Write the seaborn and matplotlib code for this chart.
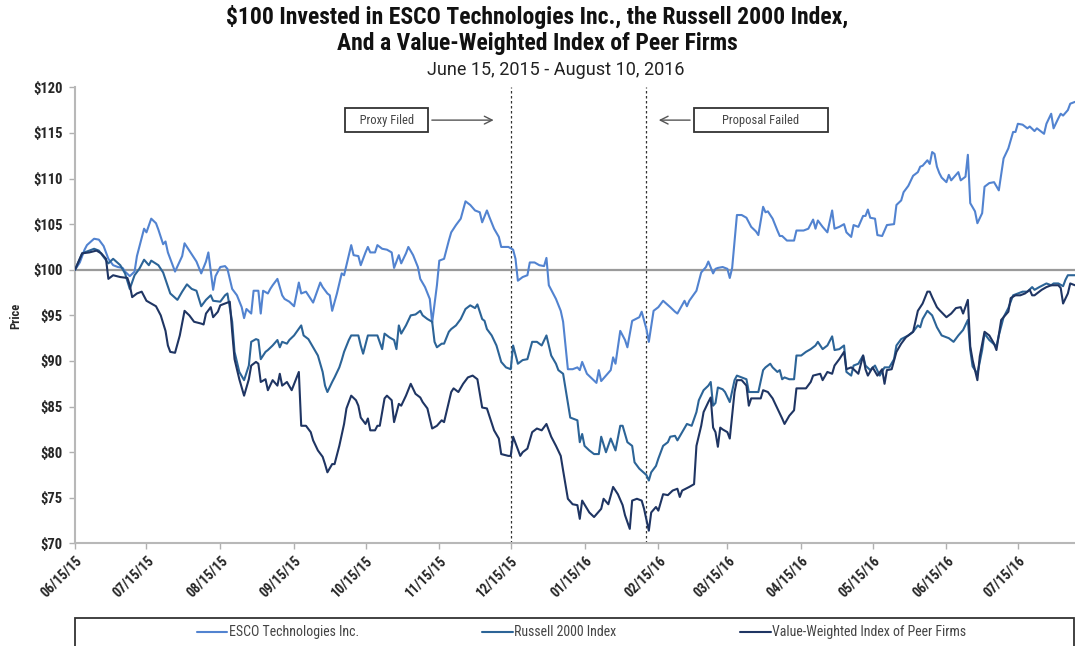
import pandas as pd
import matplotlib
matplotlib.use('Agg')
import matplotlib.pyplot as plt
import matplotlib.dates as mdates
from matplotlib import font_manager
from matplotlib.ticker import FuncFormatter
from matplotlib.patches import Rectangle
import seaborn as sns

# data: days after 06/15/15 and the value of $100 invested
start = pd.Timestamp('2015-06-15')

esco_days = [0, 2, 4, 5, 8, 10, 12, 14, 16, 18, 20, 21, 23, 25, 26, 28, 29, 30, 32, 34, 35, 37, 38, 39, 41, 42,
             45, 46, 48, 51, 53, 55, 56, 58, 59, 61, 63, 64, 66, 68, 70, 71, 72, 74, 75, 77, 78, 79, 81, 82, 83,
             85, 87, 88, 90, 92, 94, 95, 97, 100, 103, 104, 106, 107, 108, 110, 112, 113, 116, 117, 119, 120,
             122, 123, 124, 126, 127, 129, 131, 133, 134, 136, 137, 139, 140, 142, 144, 145, 147, 149, 150, 152,
             153, 155, 157, 158, 160, 162, 164, 166, 168, 170, 171, 173, 174, 176, 178, 179, 182, 184, 185, 186,
             188, 190, 191, 193, 195, 197, 198, 199, 202, 204, 205, 207, 209, 211, 212, 213, 215, 217, 219, 220,
             221, 223, 225, 226, 227, 229, 231, 232, 234, 237, 238, 240, 241, 243, 245, 247, 250, 252, 253, 256,
             257, 258, 261, 263, 265, 266, 268, 269, 270, 272, 274, 275, 276, 278, 280, 282, 284, 286, 287, 289,
             290, 291, 293, 295, 296, 297, 299, 302, 303, 305, 306, 308, 310, 311, 312, 314, 316, 318, 319, 321,
             323, 324, 326, 327, 329, 331, 332, 333, 334, 336, 337, 339, 341, 344, 345, 347, 348, 350, 352, 354,
             355, 356, 358, 359, 360, 361, 362, 363, 364, 366, 367, 368, 371, 372, 374, 375, 376, 378, 379, 381,
             382, 384, 386, 388, 390, 392, 394, 395, 396, 398, 400, 401, 403, 404, 407, 408, 410, 411, 413, 414,
             415, 417, 418, 420]
esco_vals = [100, 100.8, 102.2, 102.7, 103.4, 103.3, 102.6, 101.2, 100.5, 100.3, 100.2, 99.8, 99.3, 99.8, 101.5,
             103.5, 104.5, 104.1, 105.6, 105.1, 104.4, 102.8, 103.1, 101.9, 100.5, 99.8,
             101.5, 102.9, 102.1, 100.9, 99.6, 100.9, 101.9, 97.8, 99.3, 100.3, 100.4, 100.1, 97.9, 97.2, 95.9,
             94.7, 95.7, 95.2, 97.7, 97.7, 95.2, 97.7, 97.4, 97.9, 98.3,
             99.0, 97.2, 96.8, 96.5, 96.0, 98.6, 97.4, 97.6, 96.4, 98.6, 98.1, 97.4, 97.2, 95.5, 97.4, 99.6, 99.4,
             102.7, 101.6, 101.5, 100.5,
             101.9, 102.5, 101.9, 101.9, 102.7, 102.3, 102.2, 101.9, 100.2, 101.6, 100.7, 101.8, 102.5, 101.6,
             100.3, 99.0, 98.1, 96.8, 94.2, 98.3,
             101.0, 101.2, 103.2, 104.1, 104.9, 105.6, 107.5, 107.1, 106.5, 106.3, 105.2, 106.5, 105.8, 104.5,
             103.6, 102.5, 102.5, 102.2, 101.2, 98.8,
             99.2, 99.4, 100.8, 100.8, 100.5, 100.4, 101.3, 98.3, 96.8, 95.5, 94.3, 89.1, 89.1, 89.3, 89.0, 89.9,
             88.6, 88.1, 87.6, 89.0,
             87.8, 88.4, 89.0, 90.4, 89.7, 93.3, 92.3, 91.5, 94.4, 94.8, 95.4, 93.5, 92.1, 95.5, 95.9, 96.6, 95.9,
             95.4, 95.2, 96.6,
             96.0, 96.6, 97.7, 99.7, 100.3, 100.9, 99.6, 100.1, 100.2, 100.3, 100.1, 99.1, 100.2, 106.0, 106.0,
             105.7, 104.7, 104.2, 103.8, 106.9,
             106.3, 106.4, 105.6, 104.3, 103.7, 103.7, 103.2, 103.2, 104.3, 104.3, 104.3, 104.5, 105.5, 104.5,
             105.4, 104.7, 104.1, 106.5, 104.5, 104.7,
             105.0, 104.1, 103.6, 104.9, 104.7, 105.9, 105.9, 106.6, 105.7, 105.6, 103.8, 103.7, 104.9, 105.0,
             107.1, 107.6, 108.5, 109.2, 110.3, 110.7,
             111.3, 111.4, 112.0, 111.6, 112.9, 112.7, 111.3, 110.6, 110.1, 109.6, 110.4, 109.8, 110.7, 109.8,
             110.2, 112.6, 107.3, 106.4, 105.1, 106.2,
             109.1, 109.5, 109.6, 108.7, 112.2, 113.3, 115.1, 115.1, 116.0, 115.9, 115.5, 115.7, 115.2, 115.5,
             114.9, 116.0, 117.1, 115.5, 116.6, 117.1,
             116.9, 117.5, 118.2, 118.4]

russell_days = [0, 3, 8, 10, 12, 14, 16, 19, 21, 23, 25, 27, 29, 31, 32, 35, 37, 40, 43, 45, 47, 49, 51, 53, 55,
                57, 58, 61, 63, 64, 66, 67, 69, 71, 73, 74, 76, 77, 78, 80, 81, 83, 85, 86, 87, 89, 90, 92, 95,
                96, 98, 100, 102, 104, 105, 106, 108, 109, 111, 112, 113, 115, 116, 119, 120, 121, 123, 125, 127,
                129, 130, 132, 134, 135, 136, 137, 139, 141, 143, 145, 146, 148, 150, 151, 152, 154, 155, 157,
                158, 160, 162, 164, 166, 168, 169, 171, 172, 173, 175, 177, 179, 181, 183, 184, 186, 188, 190,
                192, 194, 196, 198, 200, 202, 203, 205, 206, 208, 209, 211, 212, 213, 214, 216, 218, 220, 221,
                223, 225, 227, 229, 230, 232, 234, 235, 237, 240, 241, 242, 244, 245, 247, 249, 250, 252, 253,
                255, 257, 259, 261, 262, 264, 266, 267, 268, 269, 270, 272, 273, 275, 277, 278, 280, 282, 283,
                285, 287, 289, 290, 292, 293, 295, 296, 297, 298, 300, 302, 303, 305, 307, 309, 311, 312, 314,
                316, 318, 319, 321, 323, 324, 326, 327, 329, 331, 332, 334, 336, 338, 340, 342, 344, 345, 347,
                350, 352, 354, 355, 356, 358, 360, 362, 364, 366, 367, 369, 371, 373, 375, 376, 377, 379, 381,
                382, 384, 387, 388, 390, 392, 394, 396, 398, 400, 402, 403, 405, 408, 410, 411, 413, 415, 416,
                417, 420]
russell_vals = [100, 101.8, 102.3, 102.1, 101.4, 100.7, 101.2, 100.5, 99.6, 97.9, 99.4, 100.1, 101.1, 100.5,
                101.0, 100.5, 99.7, 97.4, 96.7, 97.6, 98.4, 97.9, 97.7, 96.0, 96.7,
                97.2, 96.6, 96.5, 97.2, 97.4, 94.3, 91.0, 88.8, 87.9, 89.5, 92.1, 92.4, 92.3, 90.2, 91.0, 91.2,
                91.7, 92.3, 91.5, 92.1, 91.9, 92.3, 92.8, 93.9,
                92.8, 92.4, 91.5, 90.6, 88.8, 87.3, 86.6, 87.7, 88.2, 89.3, 90.1, 91.0, 92.3, 92.8, 92.8, 91.7,
                90.8, 92.8, 92.8, 92.8,
                91.3, 93.0, 92.6, 92.3, 91.3, 93.9, 93.0, 93.9, 95.0, 95.1, 95.5, 95.0, 94.6, 94.3, 92.1, 91.5,
                91.9, 91.9, 93.2,
                93.5, 93.9, 94.6, 95.7, 96.1, 95.8, 96.2, 94.6, 94.4, 93.5, 92.8, 91.7, 89.9, 89.3, 89.1, 91.7,
                89.7, 90.1, 90.2,
                92.1, 92.1, 91.7, 92.8, 90.6, 89.7, 89.0, 88.6, 87.0, 83.8, 83.7, 83.5, 81.1, 82.0, 80.7, 80.2,
                79.8, 79.8, 81.7,
                80.0, 81.5, 80.2, 82.9, 82.9, 81.1, 80.7, 78.9, 78.2, 77.5, 76.9, 77.8, 78.5, 79.3, 80.7, 81.1,
                81.7, 81.8, 81.3,
                82.2, 83.1, 82.9, 84.4, 85.7, 86.8, 87.3, 87.7, 85.1, 85.4, 87.1, 86.9, 86.6, 85.5, 87.9, 88.4,
                88.2, 88.0, 86.6,
                86.6, 86.6, 89.0, 89.3, 89.7, 89.3, 88.8, 89.0, 88.0, 88.2, 88.0, 88.0, 90.6, 90.6, 91.0, 91.3,
                91.7, 92.1, 91.3,
                91.7, 92.7, 91.2, 91.3, 91.7, 88.8, 88.4, 89.5, 89.7, 90.6, 89.5, 89.0, 89.5, 88.4, 89.3, 89.3,
                90.2, 91.7, 92.4,
                92.8, 93.2, 93.9, 93.7, 94.6, 95.5, 95.0, 93.7, 92.8, 92.6, 92.5, 92.1, 92.8, 93.4, 94.5, 91.2,
                89.4, 88.6, 91.2,
                93.0, 92.3, 91.6, 92.8, 94.8, 95.8, 97.2, 97.4, 97.6, 97.6, 98.1, 97.8, 98.1, 98.5, 98.3, 98.5,
                98.5, 98.2, 98.9,
                99.4, 99.4]

peer_days = [0, 3, 6, 9, 11, 13, 14, 16, 19, 22, 23, 24, 26, 28, 30, 32, 34, 36, 38, 39, 40, 42, 44, 46, 48,
             50, 53, 54, 55, 57, 58, 60, 61, 63, 65, 66, 67, 69, 71, 73, 74, 76, 77, 78, 80, 81, 83, 85, 86, 87,
             89, 91, 94, 95, 97, 99, 100, 102, 104, 105, 106, 108, 109, 111, 113, 114, 116, 118, 119, 120, 122,
             123, 124, 126, 127, 128, 130, 131, 133, 134, 136, 137, 139, 141, 143, 145, 146, 148, 150, 152, 154,
             155, 158, 159, 161, 163, 165, 167, 169, 171, 173, 174, 176, 178, 179, 182, 183, 184, 187, 188, 190,
             192, 194, 196, 198, 200, 202, 204, 205, 207, 209, 211, 212, 213, 216, 218, 221, 222, 224, 226, 228,
             230, 231, 233, 234, 236, 238, 239, 241, 242, 244, 245, 247, 249, 251, 253, 254, 255, 258, 260, 261,
             263, 264, 266, 267, 268, 269, 270, 271, 272, 274, 275, 277, 278, 280, 282, 283, 284, 288, 289, 291,
             293, 295, 297, 298, 300, 302, 303, 305, 307, 309, 310, 313, 314, 316, 318, 319, 321, 323, 324, 326,
             327, 329, 331, 332, 333, 335, 337, 339, 340, 341, 343, 345, 347, 349, 352, 354, 356, 358, 359, 360,
             362, 363, 366, 368, 370, 372, 373, 375, 376, 377, 379, 380, 382, 384, 386, 387, 389, 392, 393, 395,
             397, 399, 401, 402, 403, 406, 408, 410, 413, 414, 415, 417, 418, 420]
peer_vals = [100, 101.8, 101.9, 102.1, 101.8, 101.2, 99.0, 99.4, 99.2, 99.1, 98.3, 97.0, 97.4, 97.6, 96.6, 96.3,
             96.0, 95.0, 93.3, 91.7, 91.0, 90.9, 92.8, 95.5, 95.0,
             94.3, 94.1, 94.0, 95.2, 95.9, 94.8, 95.4, 96.1, 96.3, 96.5, 93.2, 90.2, 88.0, 86.2, 88.0, 89.5,
             89.9, 89.7, 87.7, 88.0, 86.8, 87.9, 87.3, 88.6, 87.3,
             87.7, 86.8, 88.8, 82.9, 82.9, 82.2, 81.3, 80.2, 79.5, 78.7, 77.8, 78.7, 78.7, 80.7, 83.1, 84.8,
             86.2, 85.7, 85.1, 83.8, 83.1,
             83.7, 82.4, 82.4, 82.9, 82.9, 85.9, 86.2, 85.7, 83.3, 85.3, 85.1, 86.2, 87.5, 86.4, 86.0, 85.5,
             84.8, 82.6, 82.9, 83.5,
             83.3, 86.6, 87.0, 86.6, 87.5, 88.2, 88.4, 88.0, 84.9, 84.8, 84.0, 82.4, 81.5, 79.8, 79.6, 79.6,
             81.7, 79.6, 80.0, 80.4,
             82.2, 82.6, 82.4, 83.1, 81.7, 80.7, 79.6, 78.0, 74.9, 74.3, 74.2, 72.7, 74.7, 73.4, 72.9, 73.8,
             74.9, 74.3, 76.2, 75.4,
             74.2, 73.1, 71.6, 74.7, 74.9, 74.7, 73.8, 71.4, 73.4, 74.0, 73.6, 75.4, 75.3, 75.8, 76.0, 75.1,
             75.8, 76.2, 76.5, 80.7,
             82.9, 84.4, 85.5, 86.0, 82.7, 82.2, 80.6, 82.7, 82.5, 82.2, 81.5, 86.6, 87.9, 87.9, 87.3, 85.1,
             85.9, 85.9, 86.8, 86.6,
             85.9, 84.8, 83.7, 83.1, 84.0, 84.6, 87.0, 87.0, 87.0, 87.7, 88.4, 88.6, 87.9, 88.8, 88.6, 89.5,
             90.2, 91.0, 89.1, 89.3,
             89.1, 88.6, 90.6, 89.1, 88.4, 89.3, 88.4, 89.1, 87.5, 89.0, 89.1, 91.0, 91.9, 92.6, 93.2, 95.5,
             96.3, 97.6, 97.6, 97.0,
             95.9, 95.6, 94.8, 95.2, 95.8, 95.9, 95.2, 96.7, 91.6, 90.1, 87.9, 90.5, 93.2, 92.8, 91.9, 91.2,
             94.5, 95.4, 96.9, 97.2,
             97.2, 97.4, 97.8, 97.2, 97.2, 97.8, 98.1, 98.3, 98.3, 98.0, 96.3, 97.4, 98.5, 98.3]

series_names = ['ESCO Technologies Inc.', 'Russell 2000 Index', 'Value-Weighted Index of Peer Firms']
colors = ['#5283d0', '#2c6497', '#1f3563']

frames = []
for name, d, v in zip(series_names, [esco_days, russell_days, peer_days], [esco_vals, russell_vals, peer_vals]):
    frames.append(pd.DataFrame({'Date': start + pd.to_timedelta(d, unit='D'), 'Price': v, 'Series': name}))
df = pd.concat(frames, ignore_index=True)

proxy_filed = pd.Timestamp('2015-12-15')
proposal_failed = pd.Timestamp('2016-02-10')

sns.set_style('white')

# look for a narrow face like the original's
fonts = font_manager.fontManager.ttflist
names = {f.name for f in fonts}
narrow = None
for n in ['Liberation Sans Narrow', 'Roboto Condensed', 'Open Sans Condensed', 'Arial Narrow']:
    if n in names:
        narrow = n
        break
stretch = 'normal'
if narrow is None:
    narrow = 'DejaVu Sans'
    if any(f.name == 'DejaVu Sans' and f.stretch == 'condensed' for f in fonts):
        stretch = 'condensed'
plt.rcParams['font.family'] = [narrow, 'Liberation Sans', 'DejaVu Sans']
plt.rcParams['font.stretch'] = stretch

fig = plt.figure(figsize=(10.75, 6.46), dpi=100)
ax = fig.add_axes([0.0698, 0.1587, 0.9302, 0.7062])

ax.axhline(100, color='#9a9a9a', lw=1.6, zorder=1)
sns.lineplot(data=df, x='Date', y='Price', hue='Series', palette=colors, estimator=None,
             lw=1.5, ax=ax, zorder=3)

# event markers
for d in [proxy_filed, proposal_failed]:
    ax.axvline(d, color='#333333', lw=0.9, ls=(0, (2, 2)), zorder=2)

box = dict(boxstyle='square,pad=0.45', fc='white', ec='#333333', lw=1.3)
ax.annotate('   Proxy Filed   ', xy=(start + pd.Timedelta(days=177), 116.4),
            xytext=(start + pd.Timedelta(days=131), 116.4), ha='center', va='center',
            fontsize=9, color='#444444', bbox=box,
            arrowprops=dict(arrowstyle='->', color='#555555', lw=1, mutation_scale=14))
ax.annotate('        Proposal Failed        ', xy=(start + pd.Timedelta(days=244), 116.4),
            xytext=(start + pd.Timedelta(days=288), 116.4), ha='center', va='center',
            fontsize=9, color='#444444', bbox=box,
            arrowprops=dict(arrowstyle='->', color='#555555', lw=1, mutation_scale=14))

ax.set_ylim(70, 120)
ax.set_yticks(range(70, 121, 5))
ax.yaxis.set_major_formatter(FuncFormatter(lambda v, p: f'${v:.0f}'))
ax.set_xlim(start, start + pd.Timedelta(days=420))
ax.xaxis.set_major_locator(mdates.MonthLocator(bymonthday=15))
ax.xaxis.set_major_formatter(mdates.DateFormatter('%m/%d/%y'))

ax.tick_params(axis='both', which='major', length=4, width=1, color='#b0b0b0', bottom=True, left=True)
ax.tick_params(axis='y', labelsize=10.5, pad=5)
ax.tick_params(axis='x', labelsize=10, pad=3)
for lab in ax.get_yticklabels():
    lab.set_fontweight('bold')
for lab in ax.get_xticklabels():
    lab.set_fontweight('bold')
    lab.set_rotation(45)
    lab.set_ha('right')
    lab.set_rotation_mode('anchor')

for s in ['top', 'right']:
    ax.spines[s].set_visible(False)
for s in ['left', 'bottom']:
    ax.spines[s].set_color('#b8b8b8')
    ax.spines[s].set_linewidth(1.5)

ax.set_xlabel('')
ax.set_ylabel('Price', fontsize=9, fontweight='bold', labelpad=8)

# legend in a full-width box under the dates
handles, labels = ax.get_legend_handles_labels()
ax.get_legend().remove()
ax.add_patch(Rectangle((0, -0.226), 0.999, 0.062, transform=ax.transAxes, clip_on=False,
                       fill=False, ec='#333333', lw=1.3))
ax.legend(handles, labels, loc='center', bbox_to_anchor=(0.5065, -0.195), ncol=3, frameon=False,
          fontsize=10, handlelength=2.2, handletextpad=0.1, columnspacing=8.9, labelcolor='#444444')

fig.text(0.5, 0.974, '$100 Invested in ESCO Technologies Inc., the Russell 2000 Index,', ha='center',
         va='center', fontsize=17, fontweight='bold', color='#111111')
fig.text(0.5, 0.933, 'And a Value-Weighted Index of Peer Firms', ha='center', va='center',
         fontsize=17, fontweight='bold', color='#111111')
fig.text(0.517, 0.892, 'June 15, 2015 - August 10, 2016', ha='center', va='center', fontsize=13,
         color='#222222', family=['Roboto', 'Liberation Sans', 'DejaVu Sans'])

fig.savefig('out.png', dpi=100)
